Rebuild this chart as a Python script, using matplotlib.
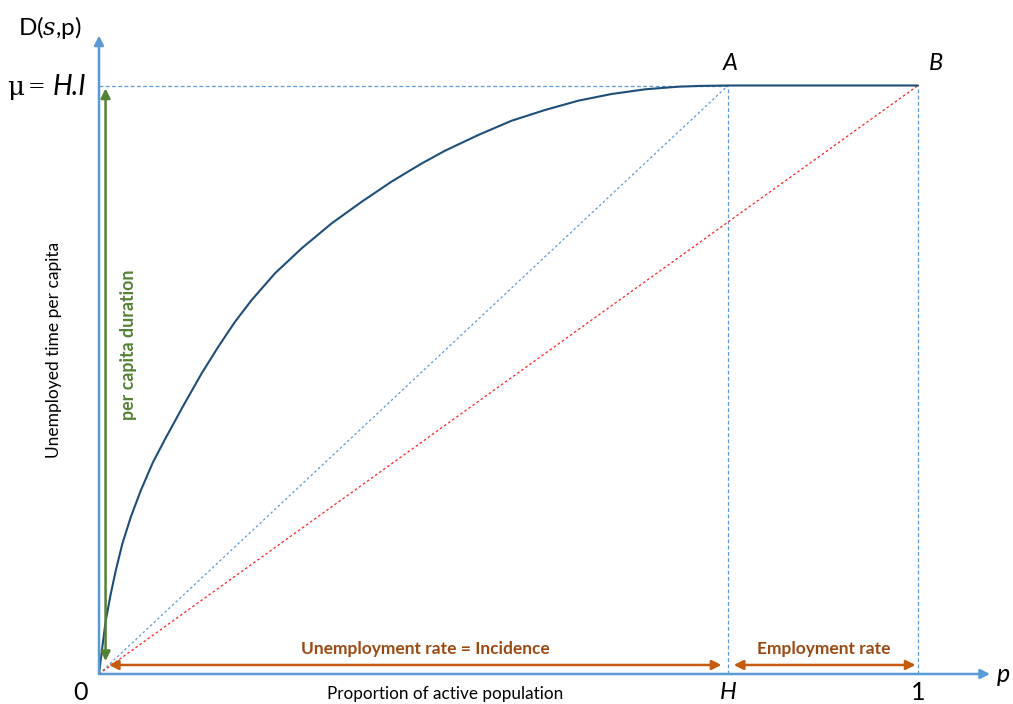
import matplotlib
matplotlib.use("Agg")
import matplotlib.pyplot as plt

plt.rcParams['font.family'] = ['Lato', 'DejaVu Sans']

# Concentration curve D(s, p): share of population p vs. cumulated unemployed time
p_curve = [0.0, 0.0040, 0.0082, 0.0143, 0.0204, 0.0284, 0.0387, 0.0509,
           0.0660, 0.0824, 0.1038, 0.1254, 0.1457, 0.1661, 0.1864, 0.2149,
           0.2475, 0.2841, 0.3208, 0.3574, 0.3940, 0.4225, 0.4631, 0.5039,
           0.5446, 0.5852, 0.6260, 0.6667, 0.7073, 0.7338, 0.768, 1.0]
d_curve = [0.0, 0.0454, 0.0906, 0.1359, 0.1755, 0.2209, 0.2663, 0.3115,
           0.3602, 0.4036, 0.4580, 0.5110, 0.5562, 0.5986, 0.6355, 0.6809,
           0.7234, 0.7658, 0.8025, 0.8369, 0.8675, 0.8892, 0.9159, 0.9402,
           0.9584, 0.9742, 0.9856, 0.9935, 0.9980, 0.9993, 1.0, 1.0]

H = 0.768     # unemployment rate = incidence
MU = 1.0      # per capita duration  mu = H.I
P_MAX = 1.0

AXIS_BLUE = '#5B9BD5'
CURVE_BLUE = '#1F4E79'
GREEN = '#548235'
ORANGE = '#C55A11'
BROWN = '#9C4A14'

fig = plt.figure(figsize=(10.13, 7.04), dpi=100)
ax = fig.add_axes([0, 0, 1, 1])
ax.set_xlim(-0.1209, 1.1160)
ax.set_ylim(-0.0510, 1.1453)
ax.axis('off')

# reference lines
ax.plot([0, H], [MU, MU], ls=(0, (3, 2)), color=AXIS_BLUE, lw=0.9)
ax.plot([H, H], [0, MU], ls=(0, (3, 2)), color=AXIS_BLUE, lw=0.9)
ax.plot([P_MAX, P_MAX], [0, MU], ls=(0, (3, 2)), color=AXIS_BLUE, lw=0.9)
ax.plot([0, H], [0, MU], ls=(0, (2, 2)), color=AXIS_BLUE, lw=0.9)
ax.plot([0, P_MAX], [0, MU], ls=(0, (2, 2)), color='#FF2020', lw=0.9)

# curve
ax.plot(p_curve, d_curve, color=CURVE_BLUE, lw=1.5,
        solid_capstyle='round', solid_joinstyle='round')

# axes with arrowheads
ax.annotate('', xy=(0, 1.085), xytext=(0, 0),
            arrowprops=dict(arrowstyle='-|>', color=AXIS_BLUE, lw=1.8,
                            mutation_scale=14, shrinkA=0, shrinkB=0))
ax.annotate('', xy=(1.088, 0), xytext=(0, 0),
            arrowprops=dict(arrowstyle='-|>', color=AXIS_BLUE, lw=1.8,
                            mutation_scale=14, shrinkA=0, shrinkB=0))

# per capita duration arrow
ax.annotate('', xy=(0.008, 0.995), xytext=(0.008, 0.022),
            arrowprops=dict(arrowstyle='<|-|>', color=GREEN, lw=1.8,
                            mutation_scale=14, shrinkA=0, shrinkB=0))
ax.text(0.036, 0.56, 'per capita duration', rotation=90, color=GREEN,
        fontsize=12.8, fontweight='bold', ha='center', va='center')

# rate arrows
y_arr = 0.0153
ax.annotate('', xy=(H - 0.008, y_arr), xytext=(0.012, y_arr),
            arrowprops=dict(arrowstyle='<|-|>', color=ORANGE, lw=1.8,
                            mutation_scale=14, shrinkA=0, shrinkB=0))
ax.annotate('', xy=(P_MAX - 0.003, y_arr), xytext=(H + 0.007, y_arr),
            arrowprops=dict(arrowstyle='<|-|>', color=ORANGE, lw=1.8,
                            mutation_scale=14, shrinkA=0, shrinkB=0))
ax.text(0.398, 0.0433, 'Unemployment rate = Incidence', color=BROWN,
        fontsize=12.5, fontweight='bold', ha='center', va='center')
ax.text(0.8846, 0.0433, 'Employment rate', color=BROWN,
        fontsize=12.5, fontweight='bold', ha='center', va='center')

# axis labels
ax.text(0.422, -0.034, 'Proportion of active population', fontsize=12.3,
        ha='center', va='center')
ax.text(-0.0545, 0.55, 'Unemployed time per capita', rotation=90,
        fontsize=12.5, ha='center', va='center')

# tick-like labels
ax.text(-0.022, -0.032, '0', fontsize=18, ha='center', va='center')
ax.text(H, -0.031, 'H', fontsize=17, style='italic', ha='center', va='center')
ax.text(P_MAX, -0.031, '1', fontsize=18, ha='center', va='center')
ax.text(1.104, -0.0017, 'p', fontsize=18, style='italic', ha='center', va='center')
ax.text(H + 0.003, 1.037, 'A', fontsize=17, style='italic', ha='center', va='center')
ax.text(P_MAX + 0.022, 1.038, 'B', fontsize=17, style='italic', ha='center', va='center')

# y-axis title and mu level
ax.text(-0.0598, 1.099, 'D($\\mathit{s}$,p)', fontsize=17.5, ha='center', va='center',
        math_fontfamily='dejavuserif')
ax.text(-0.102, 0.997, 'μ', fontsize=19, family='DejaVu Serif',
        ha='center', va='center')
ax.text(-0.0763, 0.999, '=', fontsize=15, family='DejaVu Serif',
        ha='center', va='center')
ax.text(-0.0159, 0.997, 'H.I', fontsize=20, style='italic', ha='right', va='center')

fig.savefig('out.png', dpi=100)
